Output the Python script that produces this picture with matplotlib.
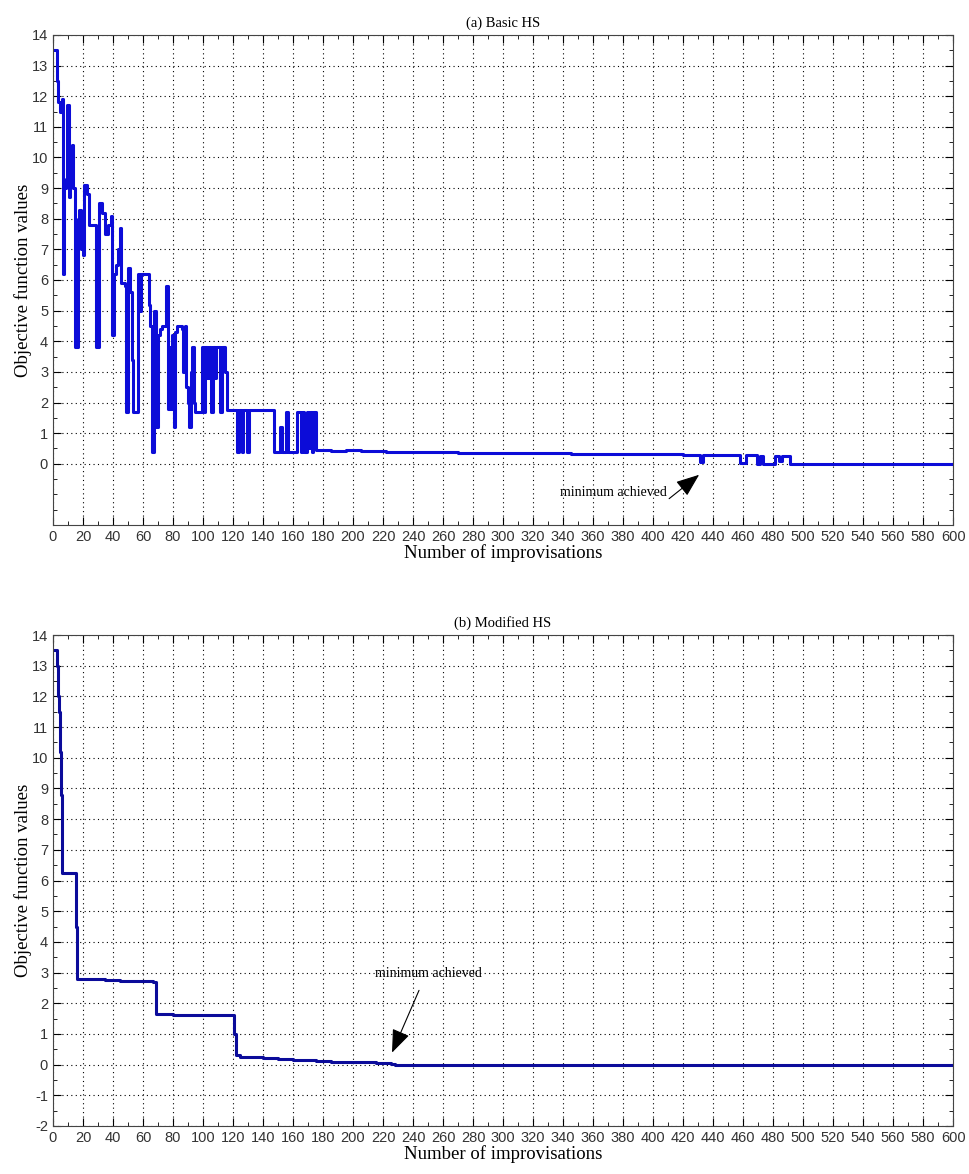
import numpy as np
import matplotlib.pyplot as plt
from matplotlib.ticker import MultipleLocator

plt.rcParams['axes.unicode_minus'] = False

# (a) Basic HS - step breakpoints
basic_x = [0, 2.5, 3.5, 5, 6, 6.8, 7.5, 8.5, 9.5, 10.5, 11.5, 12.5, 13.5, 14.5, 16.5, 17.5,
           19, 20, 21, 22.5, 24, 29, 31, 33, 35, 37, 38.5, 39.5, 40.5, 42, 43.5, 44.5,
           45.5, 48, 49, 50, 51.5, 52.5, 53.5, 56.5, 57.5, 58.5, 64, 65, 66, 67.5, 68.5,
           69, 70, 71.5, 73, 75.5, 77, 78, 78.7, 79.5, 80.5, 81.5, 83, 86, 87, 88, 89,
           90, 91, 92, 93, 94, 95, 99.5, 101, 101.5, 103, 104, 105.5, 106.5, 108, 109,
           111.5, 112.5, 114, 115, 116, 123, 124, 126, 127, 129.5, 130.5, 147, 151.5,
           152.5, 155.5, 156.5, 162.5, 165, 166, 167.5, 169, 170, 171, 172.5, 173.5,
           175.5, 185, 195, 205, 212, 222, 230, 245, 255, 270, 285, 300, 315, 330, 345,
           360, 375, 390, 405, 420, 431, 433, 445, 458, 462, 469, 471, 473, 481,
           484, 486, 491, 600]
basic_y = [13.5, 12.5, 11.8, 11.5, 11.9, 6.2, 9.0, 9.3, 11.7, 8.7, 9.5, 10.4, 9.0, 3.8, 8.0, 8.3,
           7.0, 6.8, 9.1, 8.8, 7.8, 3.8, 8.5, 8.2, 7.5, 7.8, 8.1, 4.2, 6.2, 6.5, 7.0, 7.7,
           5.9, 5.8, 1.7, 6.4, 5.6, 3.4, 1.7, 6.2, 5.0, 6.2, 5.2, 4.5, 0.4, 5.0, 3.0,
           1.2, 4.2, 4.4, 4.5, 5.8, 1.8, 3.8, 1.8, 4.2, 1.2, 4.3, 4.5, 4.4, 3.0, 4.5, 2.5,
           2.0, 1.2, 3.0, 3.8, 2.0, 1.7, 3.8, 1.7, 3.8, 2.8, 3.8, 1.7, 3.8, 2.8, 3.8,
           1.7, 3.8, 3.8, 3.0, 1.75, 0.4, 1.75, 0.4, 1.75, 0.4, 1.75, 0.4, 1.2,
           0.4, 1.7, 0.4, 1.7, 0.4, 1.7, 0.4, 1.7, 0.5, 1.7, 0.4, 1.7,
           0.45, 0.43, 0.44, 0.42, 0.43, 0.38, 0.39, 0.37, 0.38, 0.36, 0.36, 0.35, 0.34, 0.34, 0.33,
           0.33, 0.32, 0.31, 0.31, 0.30, 0.05, 0.29, 0.28, 0.02, 0.27, 0.0, 0.25, 0.0, 0.25,
           0.1, 0.25, 0.0, 0.0]

# (b) Modified HS
mod_x = [0, 2.5, 3.3, 4.0, 5.0, 5.4, 5.8, 6.2, 15.5, 16.3, 25, 35, 45, 60, 67, 68.5, 80, 100,
         120.8, 121.8, 125, 140, 150, 160, 175, 185, 200, 215, 225, 228, 600]
mod_y = [13.5, 13.0, 12.0, 11.5, 10.2, 8.8, 7.5, 6.25, 4.5, 2.8, 2.78, 2.75, 2.72, 2.72, 2.68,
         1.65, 1.63, 1.62, 1.0, 0.3, 0.25, 0.22, 0.18, 0.14, 0.12, 0.1, 0.07, 0.05, 0.02, 0.0, 0.0]

serif = ['Liberation Serif', 'DejaVu Serif']
sans = ['Liberation Sans', 'DejaVu Sans']
arrow = dict(arrowstyle='-|>,head_length=0.9,head_width=0.35', color='black', lw=0.8,
             mutation_scale=16, shrinkA=0, shrinkB=0)

fig = plt.figure(figsize=(9.7, 11.74), dpi=100)
ax1 = fig.add_axes([0.0546, 0.5528, 0.928, 0.4174])
ax2 = fig.add_axes([0.0546, 0.0409, 0.928, 0.4182])


def style(ax, ymajor, title):
    ax.set_xlim(0, 600)
    ax.set_ylim(-2, 14)
    ax.xaxis.set_major_locator(MultipleLocator(20))
    ax.xaxis.set_minor_locator(MultipleLocator(10))
    ax.set_yticks(ymajor)
    ax.set_yticks(np.arange(-2, 14.01, 0.5), minor=True)
    ax.tick_params(which='both', direction='in', top=True, right=True, labelsize=10.5)
    ax.tick_params(which='major', length=6)
    ax.tick_params(which='minor', length=3)
    for lab in ax.get_xticklabels() + ax.get_yticklabels():
        lab.set_family(sans)
        lab.set_color('#333333')
    ax.grid(True, which='major', linestyle=(0, (1, 3)), color='black', linewidth=0.8)
    for s in ax.spines.values():
        s.set_color('#444444')
    ax.set_title(title, family=serif, fontsize=10.5, pad=6)
    ax.set_xlabel('Number of improvisations', family=serif, fontsize=13.5, labelpad=0)
    ax.set_ylabel('Objective function values', family=serif, fontsize=13.5, labelpad=0)


ax1.plot(basic_x, basic_y, drawstyle='steps-post', color='#0c0cd8', linewidth=2.2)
style(ax1, list(range(0, 15)), '(a) Basic HS')
ax1.text(409, -0.95, 'minimum achieved', family=serif, fontsize=10, ha='right', va='center')
ax1.annotate('', xy=(430.7, -0.36), xytext=(410.7, -1.14), arrowprops=arrow)

ax2.plot(mod_x, mod_y, drawstyle='steps-post', color='#0b0b9a', linewidth=2.2)
style(ax2, list(range(-2, 15)), '(b) Modified HS')
ax2.text(250, 2.97, 'minimum achieved', family=serif, fontsize=10, ha='center', va='center')
ax2.annotate('', xy=(226, 0.39), xytext=(244, 2.42), arrowprops=arrow)

fig.savefig('out.png', dpi=100)
